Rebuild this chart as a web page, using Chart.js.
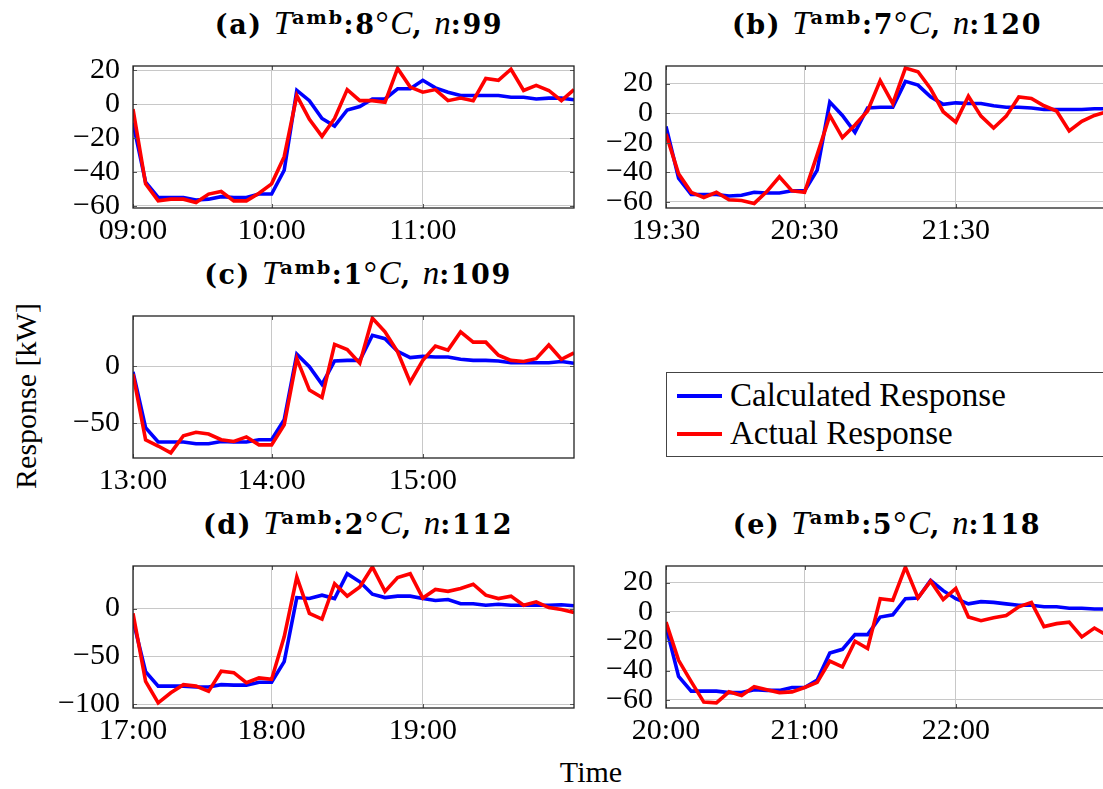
<!DOCTYPE html>
<html>
<head>
<meta charset="utf-8">
<script src="https://cdn.jsdelivr.net/npm/chart.js@4.4.1/dist/chart.umd.min.js"></script>
<style>
  body { margin: 0; width: 1103px; height: 789px; overflow: hidden; background: #fff; position: relative; font-family: "Liberation Serif", serif; color: #000; }
  canvas { position: absolute; }
  .title { position: absolute; font-family: "DejaVu Serif", serif; font-size: 27px; font-weight: bold; letter-spacing: 1.6px; white-space: nowrap; transform: translateX(-50%); line-height: 30px; }
  .title i { font-family: "Liberation Serif", serif; font-weight: normal; font-size: 33px; letter-spacing: 0; }
  .title .sup { font-size: 0.72em; vertical-align: 0.5em; }
  .title .deg { font-family: "Liberation Serif", serif; font-weight: normal; font-size: 33px; }
  .axlabel { position: absolute; font-size: 30px; white-space: nowrap; }
  .legend { position: absolute; left: 666px; top: 372px; width: 500px; height: 85px; border: 1.3px solid #444; box-sizing: border-box; }
  .legend .row { position: absolute; left: 10px; font-size: 33px; line-height: 38px; white-space: nowrap; }
  .legend .swatch { display: inline-block; width: 45px; height: 4px; vertical-align: middle; margin-right: 8px; position: relative; top: -2px; }
</style>
</head>
<body>
<script>
// x positions, minutes after the labelled start (5-min samples)
const minutes = [5, 10, 15, 20, 25, 30, 35, 40, 45, 50, 55, 60, 65, 70, 75, 80, 85, 90,
                 95, 100, 105, 110, 115, 120, 125, 130, 135, 140, 145, 150, 155, 160, 165, 170, 175, 180];
const xTickPos = [5, 60, 120];

const ticksA = ['09:00', '10:00', '11:00'];
const ticksB = ['19:30', '20:30', '21:30'];
const ticksC = ['13:00', '14:00', '15:00'];
const ticksD = ['17:00', '18:00', '19:00'];
const ticksE = ['20:00', '21:00', '22:00'];

const calcA = [-11, -46, -55, -55, -55, -56.5, -56, -54.5, -55, -55, -53, -53, -39, 8, 2, -8.5, -13, -3.5,
               -1.5, 3, 3, 9, 9, 14, 9.5, 7, 5, 5, 5, 5, 4, 4, 3, 3.5, 3.5, 2.5];
const actA = [-3, -47, -57, -56, -56, -58, -53, -51.5, -57, -57, -52.5, -47, -31, 5, -9, -19, -8.5, 8.5,
              2, 2, 1, 21, 10, 7, 8.5, 2, 3.5, 2, 15, 14, 20.5, 8, 11, 8, 2, 8.5];

const calcB = [-9, -44, -55, -55, -55, -56, -55.5, -53.5, -54, -54, -52.5, -52.5, -38.5, 7.5, -1.5, -13, 3.5, 4,
               4, 21.5, 19, 11, 6, 7, 6.5, 6.5, 5, 4, 4, 3.5, 2.5, 2.5, 2.5, 2.5, 3, 3];
const actB = [-14, -41, -53.5, -57, -53.5, -58.5, -59, -61, -53, -43, -52.5, -53.5, -28, -1.5, -16.5, -8, 1.5, 22,
              6.5, 30.5, 28, 16.5, 1, -6, 11.5, -2, -10, -2, 11, 10, 5, 1.5, -12, -5.5, -1.5, 1];

const calcC = [-5, -54, -66.5, -66.5, -66.5, -68, -68, -66, -66.5, -66.5, -64.5, -64.5, -47, 10.5, -0.5, -16, 4.5, 5,
               5, 27, 24, 13, 7.5, 8.5, 8, 8, 6, 5, 5, 4.5, 3, 3, 3, 3, 4, 2.5];
const actC = [-7, -64.5, -70, -76, -61, -58, -59.5, -64.5, -66, -62, -69, -69, -51.5, 6.5, -21, -27.5, 19, 14.5,
              2.5, 42, 30, 12.5, -14, 5, 17.5, 14, 30, 21, 21, 9.5, 5, 4, 6.5, 18.5, 6, 11.5];

const calcD = [-12, -66, -81, -81, -81, -82, -82, -79.5, -80, -80, -77, -77, -55.5, 11.5, 10.5, 14, 10.5, 36.5,
               28, 15, 11.5, 13, 13, 10.5, 8.5, 9.5, 5, 5, 3.5, 4.5, 3.5, 3.5, 3.5, 3.5, 4, 3];
const actD = [-5, -76, -98.5, -88, -79.5, -81, -86.5, -65.5, -67, -77.5, -72.5, -74, -29.5, 33, -5, -11, 26, 13,
              22.5, 43.5, 18, 32.5, 36.5, 11, 20, 18, 21, 25.5, 14, 10.5, 13, 3.5, 7, 1, -1, -4];

const calcE = [-10, -44, -54, -54, -54, -55, -55, -53, -53.5, -53.5, -51.5, -51.5, -46.5, -28, -25.5, -15.5, -15.5, -3.5,
               -2, 9, 9.5, 21.5, 14.5, 9, 5.5, 7, 6.5, 5.5, 4.5, 4.5, 3.5, 3.5, 2.5, 2.5, 2, 2];
const actE = [-7, -33, -47.5, -61.5, -62, -54.5, -57, -51, -53, -55, -54.5, -51.5, -48, -33.5, -37.5, -20, -25, 9,
              8, 30.5, 9.5, 21, 8.5, 16, -3.5, -6, -4, -2.5, 3.5, 6.5, -10, -8, -7, -17, -11, -16];

const yTicks20 = [-60, -40, -20, 0, 20];
const yTicksC = [-50, 0];
const yTicksD = [-100, -50, 0];

const panels = [
  { letter: 'a', temp: 8, n: 99,  xl: ticksA, yt: yTicks20, calc: calcA, act: actA, ymin: -61.2, ymax: 22.4, left: 133, top: 66, tx: 359 },
  { letter: 'b', temp: 7, n: 120, xl: ticksB, yt: yTicks20, calc: calcB, act: actB, ymin: -64.1, ymax: 31.9, left: 666, top: 66, tx: 887 },
  { letter: 'c', temp: 1, n: 109, xl: ticksC, yt: yTicksC,  calc: calcC, act: actC, ymin: -80.5, ymax: 43.9, left: 133, top: 316, tx: 358 },
  { letter: 'd', temp: 2, n: 112, xl: ticksD, yt: yTicksD,  calc: calcD, act: actD, ymin: -103.9, ymax: 44.5, left: 133, top: 566, tx: 358 },
  { letter: 'e', temp: 5, n: 118, xl: ticksE, yt: yTicks20, calc: calcE, act: actE, ymin: -65.5, ymax: 31.3, left: 666, top: 566, tx: 887 },
];

const PW = 441, PH = 142, PADL = 90, PADT = 20, PADR = 10, PADB = 40;
const FONT = '"Liberation Serif", serif';

// full box + small inward ticks, like pgfplots
const framePlugin = {
  id: 'frame',
  afterDraw(chart) {
    const { ctx, chartArea: a, scales } = chart;
    ctx.save();
    ctx.strokeStyle = '#555';
    ctx.lineWidth = 1;
    scales.x.ticks.forEach((t) => {
      const px = Math.round(scales.x.getPixelForValue(t.value)) + 0.5;
      ctx.beginPath();
      ctx.moveTo(px, a.bottom); ctx.lineTo(px, a.bottom - 4);
      ctx.moveTo(px, a.top); ctx.lineTo(px, a.top + 4);
      ctx.stroke();
    });
    scales.y.ticks.forEach((t) => {
      const py = Math.round(scales.y.getPixelForValue(t.value)) + 0.5;
      ctx.beginPath();
      ctx.moveTo(a.left, py); ctx.lineTo(a.left + 4, py);
      ctx.moveTo(a.right, py); ctx.lineTo(a.right - 4, py);
      ctx.stroke();
    });
    ctx.strokeStyle = '#222';
    ctx.lineWidth = 1.3;
    ctx.strokeRect(a.left, a.top, a.right - a.left, a.bottom - a.top);
    ctx.restore();
  }
};

const noPad = (s) => { s.paddingTop = 0; s.paddingBottom = 0; s.paddingLeft = 0; s.paddingRight = 0; };
const toPoints = (ys) => ys.map((y, i) => ({ x: minutes[i], y }));

panels.forEach((p) => {
  const cv = document.createElement('canvas');
  const w = PW + PADL + PADR, h = PH + PADT + PADB;
  cv.width = w; cv.height = h;
  cv.style.width = w + 'px'; cv.style.height = h + 'px';
  cv.style.left = (p.left - PADL) + 'px';
  cv.style.top = (p.top - PADT) + 'px';
  document.body.appendChild(cv);

  const t = document.createElement('div');
  t.className = 'title';
  t.style.left = p.tx + 'px';
  t.style.top = (p.top - 63) + 'px';
  t.innerHTML = '(' + p.letter + ') <i>T</i><span class="sup">amb</span>:' + p.temp +
    '<span class="deg">°</span><i>C</i>, <i>n</i>:' + p.n;
  document.body.appendChild(t);

  new Chart(cv, {
    type: 'line',
    data: {
      datasets: [
        { label: 'Calculated Response', data: toPoints(p.calc), borderColor: '#0000ff', borderWidth: 3.6, order: 1 },
        { label: 'Actual Response', data: toPoints(p.act), borderColor: '#ff0000', borderWidth: 3.6, order: 0 },
      ]
    },
    options: {
      responsive: false,
      animation: false,
      devicePixelRatio: 1,
      layout: { padding: { left: 0, top: PADT, right: PADR, bottom: 0 } },
      elements: { point: { radius: 0 }, line: { tension: 0 } },
      plugins: { legend: { display: false }, tooltip: { enabled: false } },
      scales: {
        x: {
          type: 'linear', min: minutes[0], max: minutes[minutes.length - 1],
          afterBuildTicks: (s) => { s.ticks = xTickPos.map((v) => ({ value: v })); },
          afterFit: (s) => { s.height = PADB; noPad(s); },
          grid: { color: '#c8c8c8', lineWidth: 1, drawTicks: false },
          border: { display: false },
          ticks: {
            autoSkip: false, padding: 5, color: '#000', font: { family: FONT, size: 30 },
            callback: (v) => p.xl[xTickPos.indexOf(v)], maxRotation: 0
          }
        },
        y: {
          min: p.ymin, max: p.ymax,
          afterBuildTicks: (s) => { s.ticks = p.yt.map((v) => ({ value: v })); },
          afterFit: (s) => { s.width = PADL; noPad(s); },
          grid: { color: '#c8c8c8', lineWidth: 1, drawTicks: false },
          border: { display: false },
          ticks: {
            autoSkip: false, padding: 13, color: '#000', font: { family: FONT, size: 30 },
            callback: (v) => String(v).replace('-', '\u2212')
          }
        }
      }
    },
    plugins: [framePlugin]
  });
});
</script>

<div class="legend">
  <div class="row" style="top:3px"><span class="swatch" style="background:#0000ff"></span>Calculated Response</div>
  <div class="row" style="top:41px"><span class="swatch" style="background:#ff0000"></span>Actual Response</div>
</div>
<div class="axlabel" style="left:26px;top:396px;transform:translate(-50%,-50%) rotate(-90deg);">Response [kW]</div>
<div class="axlabel" style="left:591px;top:772px;transform:translate(-50%,-50%);">Time</div>
</body>
</html>
